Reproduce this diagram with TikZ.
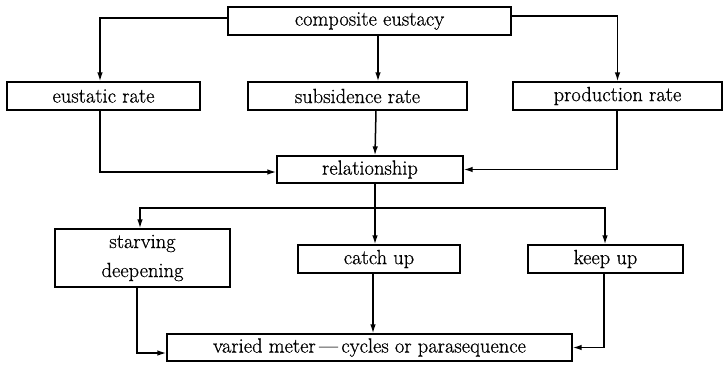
\documentclass[tikz,border=0pt]{standalone}
\usepackage{fontspec}
\newfontfamily\diafont{Latin Modern Roman}[FakeBold=0.6]
\usetikzlibrary{arrows.meta}
\begin{document}
\begin{tikzpicture}[x=1pt,y=-1pt,
  box/.style={draw,line width=1.2pt,rectangle,inner sep=0pt,font=\diafont\fontsize{20.5}{24}\selectfont},
  arr/.style={line width=1.5pt,-{Latex[length=9pt,width=5.5pt]}},
  ln/.style={line width=1.5pt}]
\useasboundingbox (0,0) rectangle (725,364);
\node[box,minimum width=283pt,minimum height=28pt] (comp) at (369.5,21) {composite eustacy};
\node[box,minimum width=193pt,minimum height=28pt] (eus) at (103.5,96) {eustatic rate};
\node[box,minimum width=219pt,minimum height=28pt] (sub) at (357.5,96) {subsidence rate};
\node[box,minimum width=209pt,minimum height=28pt] (prod) at (617.5,96) {production rate};
\node[box,minimum width=186pt,minimum height=27pt] (rel) at (370,169.5) {relationship};
\node[box,minimum width=175pt,minimum height=58pt,align=center,font=\diafont\fontsize{20.5}{29}\selectfont] (starv) at (142.5,258) {starving\\deepening};
\node[box,minimum width=162pt,minimum height=28pt] (catch) at (379,259) {catch up};
\node[box,minimum width=155pt,minimum height=28pt] (keep) at (605.5,259) {keep up};
\node[box,minimum width=405pt,minimum height=27pt] (var) at (369.5,347.5) {varied meter\,—\,cycles or parasequence};
\coordinate (br) at (375,208);
% top level
\draw[arr] ([yshift=3pt]comp.west) -| ([xshift=-3.5pt]eus.north);
\draw[arr] ([yshift=5pt]comp.east) -| (prod.north);
\draw[arr] ([xshift=8.5pt]comp.south) -- ([xshift=20.5pt]sub.north);
% into relationship
\draw[arr] ([xshift=-3.5pt]eus.south) |- ([yshift=-2.5pt]rel.west);
\draw[arr] ([xshift=18.5pt]sub.south) -- ([xshift=5pt]rel.north);
\draw[arr] ([xshift=-0.5pt]prod.south) |- (rel.east);
% branches
\draw[ln] ([xshift=5pt]rel.south) -- (br);
\draw[arr] (br) -- ([xshift=-4pt]catch.north);
\draw[arr] (br) -| ([xshift=-2.5pt]starv.north);
\draw[arr] (br) -| ([xshift=-0.5pt]keep.north);
% into varied
\draw[arr] ([xshift=-5.5pt]starv.south) |- ([yshift=-5.5pt]var.west);
\draw[arr] ([xshift=-6pt]catch.south) -- ([xshift=3.5pt]var.north);
\draw[arr] ([xshift=-1.5pt]keep.south) |- (var.east);
\end{tikzpicture}
\end{document}
